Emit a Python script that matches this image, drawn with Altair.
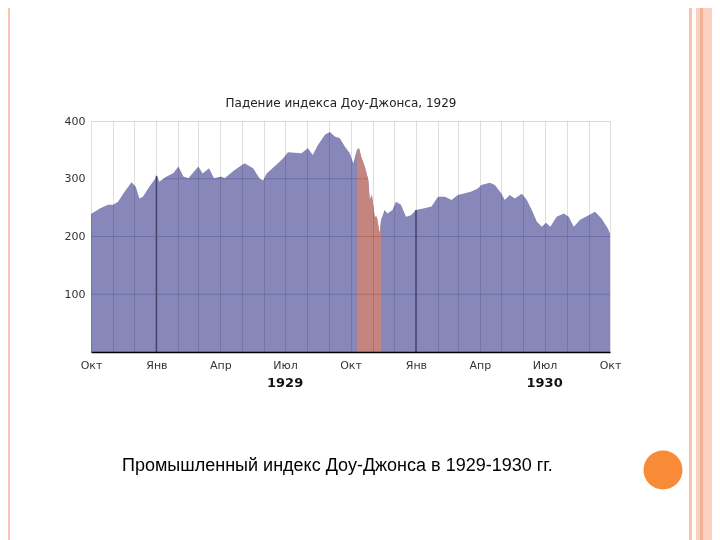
import altair as alt
import pandas as pd

# ---------------- data ----------------
dates = [
    "1928-10-01", "1928-10-14", "1928-10-25", "1928-11-01", "1928-11-08", "1928-11-17",
    "1928-11-27", "1928-12-03", "1928-12-08", "1928-12-13", "1928-12-22", "1928-12-29",
    "1929-01-02", "1929-01-05", "1929-01-13", "1929-01-25", "1929-02-01", "1929-02-08",
    "1929-02-15", "1929-03-01", "1929-03-07", "1929-03-16", "1929-03-23", "1929-04-02",
    "1929-04-07", "1929-04-21", "1929-05-05", "1929-05-17", "1929-05-26", "1929-05-31",
    "1929-06-05", "1929-06-16", "1929-06-28", "1929-07-05", "1929-07-24", "1929-08-02",
    "1929-08-09", "1929-08-16", "1929-08-26", "1929-09-02", "1929-09-09", "1929-09-16",
    "1929-09-23", "1929-09-30",
    "1929-10-05", "1929-10-10", "1929-10-13", "1929-10-16", "1929-10-21", "1929-10-26",
    "1929-10-28", "1929-10-31", "1929-11-04", "1929-11-07", "1929-11-11", "1929-11-13",
    "1929-11-18", "1929-11-22", "1929-11-29", "1929-12-04", "1929-12-11", "1929-12-18",
    "1929-12-25",
    "1930-01-01", "1930-01-13", "1930-01-23", "1930-02-01", "1930-02-11", "1930-02-20",
    "1930-03-01", "1930-03-11", "1930-03-20", "1930-03-29", "1930-04-03", "1930-04-15",
    "1930-04-22", "1930-05-01", "1930-05-06", "1930-05-13", "1930-05-20", "1930-05-30",
    "1930-06-06", "1930-06-13", "1930-06-20", "1930-06-27", "1930-07-03", "1930-07-09",
    "1930-07-18", "1930-07-28", "1930-08-04", "1930-08-11", "1930-08-20", "1930-09-01",
    "1930-09-10", "1930-09-19", "1930-09-28", "1930-10-01",
]
values = [
    239, 249, 255, 255, 260, 277, 294, 286, 266, 269, 286, 298,
    305, 295, 302, 310, 321, 304, 301, 321, 309, 318, 301, 304,
    301, 315, 327, 318, 301, 297, 309, 321, 335, 346, 344, 353,
    341, 358, 376, 381, 373, 370, 356, 344,
    327, 350, 353, 338, 321, 298, 263, 272, 234, 234, 205, 229,
    246, 240, 246, 260, 255, 234, 237,
    246, 249, 252, 269, 269, 263, 272, 275, 278, 283, 289, 293,
    289, 275, 263, 272, 266, 274, 263, 246, 226, 217, 224, 217,
    234, 240, 234, 217, 229, 237, 243, 231, 214, 205,
]
crash_start = "1929-10-10"
crash_end = "1929-11-13"

year_start_dates = ["1929-01-01", "1930-01-01"]
year_start_values = [305, 246]
year_label_dates = ["1929-07-01", "1930-07-01"]
year_labels = ["1929", "1930"]
y_ticks = [100, 200, 300, 400]
y_inner_grid = [100, 200, 300]
month_labels = ["Янв", "", "", "Апр", "", "", "Июл", "", "", "Окт", "", ""]
title_text = "Падение индекса Доу-Джонса, 1929"
caption_text = "Промышленный индекс Доу-Джонса в 1929-1930 гг."

# ---------------- tables ----------------
df = pd.DataFrame({"date": pd.to_datetime(dates), "value": values})
crash_df = df[(df["date"] >= pd.Timestamp(crash_start)) & (df["date"] <= pd.Timestamp(crash_end))]
year_lines_df = pd.DataFrame({"date": pd.to_datetime(year_start_dates), "value": year_start_values})
year_lab_df = pd.DataFrame({"date": pd.to_datetime(year_label_dates), "label": year_labels})
grid_df = pd.DataFrame({"value": y_inner_grid})
one = pd.DataFrame({"k": [0]})

month_starts = pd.date_range("1928-10-01", "1930-10-01", freq="MS")
x_axis_values = [alt.DateTime(year=d.year, month=d.month, date=1) for d in month_starts]
label_expr = "[" + ",".join("'%s'" % m for m in month_labels) + "][month(datum.value)]"

W, H = 519, 231
PAD = {"left": 83, "top": 113, "right": 102, "bottom": 188}

xscale = alt.Scale(domain=[alt.DateTime(year=1928, month=10, date=1),
                           alt.DateTime(year=1930, month=10, date=1)], nice=False)
xaxis = alt.Axis(values=x_axis_values, labelExpr=label_expr, title=None,
                 grid=True, gridColor="#000000", gridOpacity=0.13,
                 ticks=False, domain=True, domainColor="#000000", domainWidth=1.5,
                 labelFont="DejaVu Sans", labelFontSize=11, labelColor="#333333",
                 labelPadding=7, labelOverlap=False, labelFlush=False, zindex=1)
yscale = alt.Scale(domain=[0, 400], nice=False, zero=True)
yaxis = alt.Axis(values=y_ticks, title=None, ticks=False, domain=False,
                 grid=True, gridColor="#000000",
                 gridOpacity={"condition": {"test": "datum.value == 400", "value": 0.15}, "value": 0},
                 labelFont="DejaVu Sans", labelFontSize=11, labelColor="#333333",
                 labelPadding=6, zindex=1)


def X():
    return alt.X("date:T", scale=xscale, axis=xaxis)


def Y():
    return alt.Y("value:Q", scale=yscale, axis=yaxis)


blue = alt.Chart(df).mark_area(color="#8787b9", interpolate="linear").encode(x=X(), y=Y())
red = alt.Chart(crash_df).mark_area(color="#c4847f", interpolate="linear").encode(x=X(), y=Y())

inner_grid = alt.Chart(grid_df).mark_rule(color="#d5d5d5", strokeWidth=1, blend="color-burn").encode(
    y=Y(), x=alt.value(0), x2=alt.value(W))

year_lines = alt.Chart(year_lines_df).mark_rule(color="#4a4a78", strokeWidth=1.5).encode(
    x=X(), y=Y(), y2=alt.value(H))

year_text = alt.Chart(year_lab_df).mark_text(font="DejaVu Sans", fontSize=13, fontWeight="bold",
                                            color="#111111", baseline="middle").encode(
    x=X(), y=alt.value(H + 31), text="label:N")

title = alt.Chart(one).mark_text(text=title_text, font="DejaVu Sans", fontSize=12,
                                 color="#222222", baseline="middle", align="center").encode(
    x=alt.value(250), y=alt.value(-18))

caption = alt.Chart(one).mark_text(text=caption_text, font="Liberation Sans", fontSize=18,
                                   color="#000000", baseline="middle", align="left").encode(
    x=alt.value(31), y=alt.value(345))

top_y, bot_y = -PAD["top"], H + PAD["bottom"]
deco_right_line = alt.Chart(one).mark_rect(color="#f9c4ae").encode(
    x=alt.value(598), x2=alt.value(601), y=alt.value(top_y), y2=alt.value(bot_y))
deco_right_band = alt.Chart(one).mark_rect(color="#fbd0bf").encode(
    x=alt.value(605), x2=alt.value(621), y=alt.value(top_y), y2=alt.value(bot_y))
deco_right_stripe = alt.Chart(one).mark_rect(color="#f3b198").encode(
    x=alt.value(609), x2=alt.value(612), y=alt.value(top_y), y2=alt.value(bot_y))
deco_left = alt.Chart(one).mark_rect(color="#f9c6b3").encode(
    x=alt.value(-83), x2=alt.value(-81), y=alt.value(top_y), y2=alt.value(bot_y))
circle = alt.Chart(one).mark_point(filled=True, shape="circle", size=1520, color="#f98b38",
                                   opacity=1).encode(x=alt.value(572), y=alt.value(349))

chart = alt.layer(
    blue, red, inner_grid, year_lines, year_text, title, caption,
    deco_right_line, deco_right_band, deco_right_stripe, deco_left, circle,
).properties(
    width=W, height=H,
    autosize=alt.AutoSizeParams(type="none"),
    padding=PAD,
    background="#ffffff",
).configure_view(stroke=None)

chart.save("out.html", embed_options={"renderer": "svg", "actions": False})
